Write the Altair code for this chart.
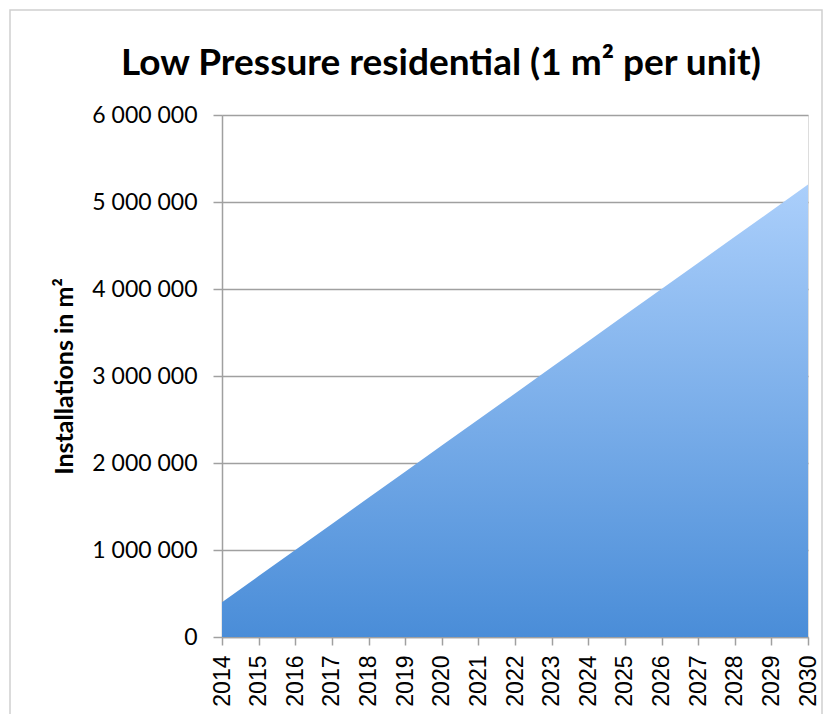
import altair as alt
import pandas as pd

years = ["2014", "2015", "2016", "2017", "2018", "2019", "2020", "2021", "2022",
         "2023", "2024", "2025", "2026", "2027", "2028", "2029", "2030"]
installations = [400000, 700000, 1000000, 1300000, 1600000, 1900000, 2200000, 2500000,
                 2800000, 3100000, 3400000, 3700000, 4000000, 4300000, 4600000, 4900000, 5200000]
y_ticks = [0, 1000000, 2000000, 3000000, 4000000, 5000000, 6000000]
title_text = "Low Pressure residential (1 m² per unit)"

df = pd.DataFrame({"year": years, "value": installations})

grad = alt.Gradient(
    gradient="linear",
    stops=[alt.GradientStop(color="#4a8dd8", offset=0),
           alt.GradientStop(color="#abcffb", offset=1)],
    x1=1, x2=1, y1=1, y2=0,
)

area = alt.Chart(df).mark_area(color=grad, line=False).encode(
    x=alt.X("year:O", scale=alt.Scale(type="point", padding=0),
            axis=alt.Axis(title=None, labelAngle=270, labelFont="Liberation Sans",
                          labelFontSize=23, labelColor="#000000", labelPadding=10,
                          tickSize=8, tickColor="#a0a0a0", domainColor="#a0a0a0",
                          tickWidth=1.5, domainWidth=1.5, grid=False)),
    y=alt.Y("value:Q", scale=alt.Scale(domain=[0, 6000000], nice=False),
            axis=alt.Axis(title="Installations in m²", values=y_ticks, format=",d",
                          labelFont="Lato", labelFontSize=23, labelColor="#000000",
                          labelPadding=16, tickSize=9, tickColor="#a0a0a0",
                          domainColor="#a0a0a0", tickWidth=1.5, domainWidth=1.5,
                          grid=True, gridColor="#a0a0a0", gridWidth=1.5,
                          titleFont="Lato", titleFontWeight="bold", titleFontSize=25,
                          titleColor="#000000", titlePadding=14)),
)

frame = alt.Chart(alt.Data(values=[{"a": 1}])).mark_rect(
    filled=False, stroke="#d0d0d0", strokeWidth=1.5
).encode(
    x=alt.value(-212), x2=alt.value(600), y=alt.value(-105), y2=alt.value(610)
)

title = alt.Chart(alt.Data(values=[{"t": title_text}])).mark_text(
    font="Lato", fontSize=37, fontWeight="bold", color="#000000",
    align="center", baseline="alphabetic"
).encode(
    text="t:N", x=alt.value(219), y=alt.value(-40)
)

chart = alt.layer(frame, area, title).properties(
    width=586,
    height=522,
    autosize=alt.AutoSizeParams(type="none"),
    padding={"left": 214, "top": 107, "right": 15, "bottom": 77},
).configure_view(stroke=None).configure(
    locale={"number": {"decimal": ".", "thousands": " ", "grouping": [3], "currency": ["", ""]}}
)

chart.save("out.html", embed_options={"renderer": "svg", "actions": False})
